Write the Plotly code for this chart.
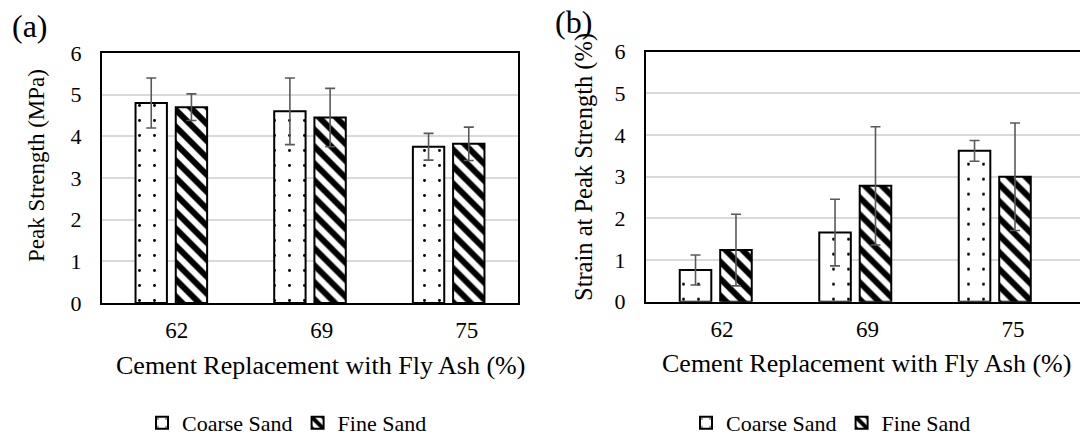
import plotly.graph_objects as go

# ---------------- data ----------------
categories = ["62", "69", "75"]
series_names = ["Coarse Sand", "Fine Sand"]

peak_coarse = [4.80, 4.60, 3.75]
peak_coarse_err = [0.60, 0.80, 0.32]
peak_fine = [4.70, 4.45, 3.82]
peak_fine_err = [0.32, 0.70, 0.40]

strain_coarse = [0.76, 1.66, 3.62]
strain_coarse_err = [0.36, 0.80, 0.25]
strain_fine = [1.24, 2.78, 3.00]
strain_fine_err = [0.86, 1.42, 1.29]

y_ticks = [0, 1, 2, 3, 4, 5, 6]

# ---------------- styling ----------------
W, H = 1080, 436
FONT = "'Liberation Serif', 'Times New Roman', Times, serif"
ERR_COLOR = "#595959"
GRID = "#d9d9d9"

def px_x(p):
    return p / W

def px_y(p):
    return 1 - p / H

styles = {
    "Coarse Sand": dict(shape=".", size=15, solidity=0.03),
    "Fine Sand": dict(shape="\\", size=12, solidity=0.5),
}

fig = go.Figure()

def add_bars(vals, errs, name, xa, ya, legend):
    st = styles[name]
    fig.add_trace(go.Bar(
        x=categories, y=vals, name=name,
        xaxis=xa, yaxis=ya, legend=legend,
        marker=dict(
            color="white",
            line=dict(color="black", width=2),
            pattern=dict(shape=st["shape"], size=st["size"], solidity=st["solidity"],
                         fgcolor="black", bgcolor="white", fillmode="replace"),
        ),
        error_y=dict(type="data", array=errs, visible=True,
                     color=ERR_COLOR, thickness=1.6, width=5),
    ))

add_bars(peak_coarse, peak_coarse_err, "Coarse Sand", "x", "y", "legend")
add_bars(peak_fine, peak_fine_err, "Fine Sand", "x", "y", "legend")
add_bars(strain_coarse, strain_coarse_err, "Coarse Sand", "x2", "y2", "legend2")
add_bars(strain_fine, strain_fine_err, "Fine Sand", "x2", "y2", "legend2")

# empty helper traces so the tick-label axes are drawn
for xa, ya in (("x3", "y"), ("x4", "y2")):
    fig.add_trace(go.Scatter(x=[None], y=[None], xaxis=xa, yaxis=ya,
                             showlegend=False, hoverinfo="skip", mode="markers"))

# domains (pixel based)
a_dom_x = [px_x(102), px_x(518)]
a_dom_y = [px_y(303), px_y(53)]
b_dom_x = [px_x(646), 1.0]
b_dom_y = [px_y(301.7), px_y(51.7)]

yaxis_common = dict(
    range=[0, 6], tickvals=y_ticks, showgrid=True, gridcolor=GRID, gridwidth=1.5,
    zeroline=False, showline=True, linecolor="black", linewidth=2,
    ticks="", tickfont=dict(family=FONT, size=22, color="black"),
    ticklabelstandoff=14, automargin=False,
)

xaxis_common = dict(
    type="category", categoryorder="array", categoryarray=categories,
    showgrid=False, zeroline=False, showline=True, linecolor="black", linewidth=2,
    showticklabels=False, ticks="", automargin=False,
)

label_axis = dict(
    type="linear", tickmode="array", tickvals=[0, 1, 2], ticktext=categories,
    showgrid=False, zeroline=False, showline=False, ticks="",
    tickfont=dict(family=FONT, size=23, color="black"), ticklabelstandoff=11,
    automargin=False,
)

legend_common = dict(
    orientation="h", xanchor="left", yanchor="middle", y=px_y(423),
    font=dict(family=FONT, size=22, color="black"), bgcolor="rgba(0,0,0,0)",
    itemwidth=30, traceorder="normal",
)

fig.update_layout(
    template="none",
    width=W, height=H,
    margin=dict(l=0, r=0, t=0, b=0, pad=0, autoexpand=False),
    paper_bgcolor="white", plot_bgcolor="white",
    font=dict(family=FONT, color="black"),
    barmode="group", bargap=0.42, bargroupgap=0.22,
    xaxis=dict(**xaxis_common, domain=a_dom_x, anchor="y", mirror=True, range=[-0.5, 2.5]),
    yaxis=dict(**yaxis_common, domain=a_dom_y, anchor="x", mirror=True),
    xaxis2=dict(**xaxis_common, domain=b_dom_x, anchor="y2", mirror=True, range=[-0.5, 2.611]),
    yaxis2=dict(**yaxis_common, domain=b_dom_y, anchor="x2", mirror=False),
    xaxis3=dict(**label_axis, overlaying="x", anchor="y", range=[-0.515, 2.354]),
    xaxis4=dict(**label_axis, overlaying="x2", anchor="y2", range=[-0.522, 2.461]),
    legend=dict(**legend_common, x=px_x(142)),
    legend2=dict(**legend_common, x=px_x(686)),
)

annotations = [
    dict(text="(a)", x=px_x(30), y=px_y(26)),
    dict(text="(b)", x=px_x(573), y=px_y(22)),
    dict(text="Peak Strength (MPa)", x=px_x(36), y=px_y(166), textangle=-90),
    dict(text="Strain at Peak Strength (%)", x=px_x(584), y=px_y(167), textangle=-90),
    dict(text="Cement Replacement with Fly Ash (%)", x=px_x(320), y=px_y(365)),
    dict(text="Cement Replacement with Fly Ash (%)", x=px_x(866), y=px_y(363)),
]
sizes = [32, 32, 23, 24.5, 26, 26]
for ann, s in zip(annotations, sizes):
    ann.update(xref="paper", yref="paper", showarrow=False,
               xanchor="center", yanchor="middle",
               font=dict(family=FONT, size=s, color="black"))
fig.update_layout(annotations=annotations)

fig.write_html("out.html")
